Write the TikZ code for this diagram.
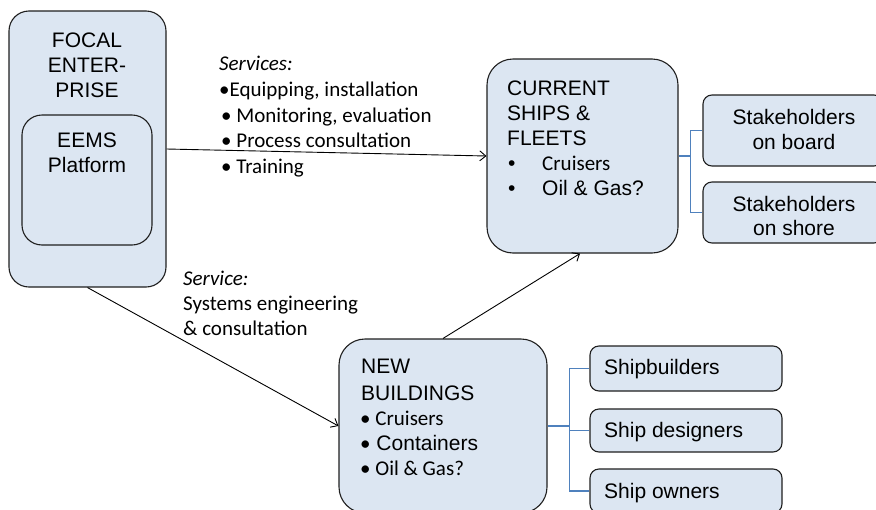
\documentclass[tikz,border=0pt]{standalone}
\usepackage{fontspec}
\setmainfont{Liberation Sans}
\newfontfamily\calfont{Carlito}
\usetikzlibrary{arrows.meta}
\definecolor{boxfill}{HTML}{DCE6F2}
\definecolor{boxline}{HTML}{1F1F1F}
\definecolor{linkblue}{HTML}{4F81BD}
\tikzset{
  panel/.style={draw=boxline, fill=boxfill, line width=1.1pt, inner sep=0pt},
  bigpanel/.style={panel, rounded corners=26pt},
  midpanel/.style={panel, rounded corners=20pt},
  smallpanel/.style={panel, rounded corners=9pt},
  txt/.style={inner sep=0pt, anchor=base west, font=\fontsize{21}{25}\selectfont},
  ctxt/.style={txt, anchor=base},
  stxt/.style={inner sep=0pt, anchor=base west, font=\calfont\fontsize{21}{25}\selectfont},
  itxt/.style={stxt, font=\calfont\itshape\fontsize{21}{25}\selectfont},
  flow/.style={draw=black, line width=0.9pt, -{Straight Barb[length=6pt,width=10pt]}},
  tie/.style={draw=linkblue, line width=1.2pt},
}
\begin{document}
\begin{tikzpicture}[x=1pt,y=-1pt]
\clip (0,0) rectangle (876,509);
\fill[white] (0,0) rectangle (876,509);

% boxes
\node[midpanel, minimum width=157pt, minimum height=276pt] (focal) at (87.5,149) {};
\node[midpanel, minimum width=130pt, minimum height=130pt] (eems) at (87,180) {};
\node[bigpanel, minimum width=191pt, minimum height=194pt] (current) at (582.5,156) {};
\node[smallpanel, minimum width=180pt, minimum height=71pt] (board) at (793,130.5) {};
\node[smallpanel, minimum width=180pt, minimum height=61pt] (shore) at (793,212.5) {};
\node[bigpanel, minimum width=208pt, minimum height=174pt] (new) at (443,426) {};
\node[smallpanel, minimum width=192pt, minimum height=45pt] (builders) at (686,368.5) {};
\node[smallpanel, minimum width=192pt, minimum height=43pt] (designers) at (686,430.5) {};
\node[smallpanel, minimum width=192pt, minimum height=44pt] (owners) at (686,491) {};

% box texts
\node[ctxt] (focal1) at (87,47) {FOCAL};
\node[ctxt] (focal2) at (87,72) {ENTER-};
\node[ctxt] (focal3) at (87,97) {PRISE};
\node[ctxt] (eems1) at (87,147) {EEMS};
\node[ctxt] (eems2) at (87,172) {Platform};

\node[txt] (cur1) at (507,95) {CURRENT};
\node[txt] (cur2) at (507,120) {SHIPS \&};
\node[txt] (cur3) at (507,145) {FLEETS};
\node[txt] (curb1) at (508,170) {•};
\node[stxt] (cur4) at (542,170) {Cruisers};
\node[txt] (curb2) at (508,195) {•};
\node[txt] (cur5) at (542,195) {Oil \& Gas?};

\node[ctxt] (board1) at (794,124) {Stakeholders};
\node[ctxt] (board2) at (794,149) {on board};
\node[ctxt] (shore1) at (794,211) {Stakeholders};
\node[ctxt] (shore2) at (794,235) {on shore};

\node[txt] (new1) at (361,373) {NEW};
\node[txt] (new2) at (361,400) {BUILDINGS};
\node[stxt] (new3) at (360,425) {• Cruisers};
\node[txt] (new4) at (360,450) {{\calfont •} Containers};
\node[stxt] (new5) at (360,475) {• Oil \& Gas?};

\node[txt] (builders1) at (604,374) {Shipbuilders};
\node[txt] (designers1) at (604,437) {Ship designers};
\node[txt] (owners1) at (604,498) {Ship owners};

% service labels
\node[itxt] (serv0) at (219,70) {Services:};
\node[stxt] (serv1) at (219,96) {•Equipping, installation};
\node[stxt] (serv2) at (221,122) {• Monitoring, evaluation};
\node[stxt] (serv3) at (221,147) {• Process consultation};
\node[stxt] (serv4) at (221,173) {• Training};

\node[itxt] (sys0) at (183,285) {Service:};
\node[stxt] (sys1) at (183,310) {Systems engineering};
\node[stxt] (sys2) at (183,335) {\& consultation};

% flows
\draw[flow] (focal.east) -- (current.west);
\draw[flow] (focal.south) -- (new.west);
\draw[flow] (new.north) -- ([xshift=-2.5pt]current.south);

% stakeholder ties
\draw[tie] (current.east) -- ++(12,0) coordinate (cj) |- (board.west);
\draw[tie] (cj) |- (shore.west);
\draw[tie] (new.east) -- ++(22,0) coordinate (nj) |- (builders.west);
\draw[tie] (nj) |- (designers.west);
\draw[tie] (nj) |- (owners.west);
\end{tikzpicture}
\end{document}
